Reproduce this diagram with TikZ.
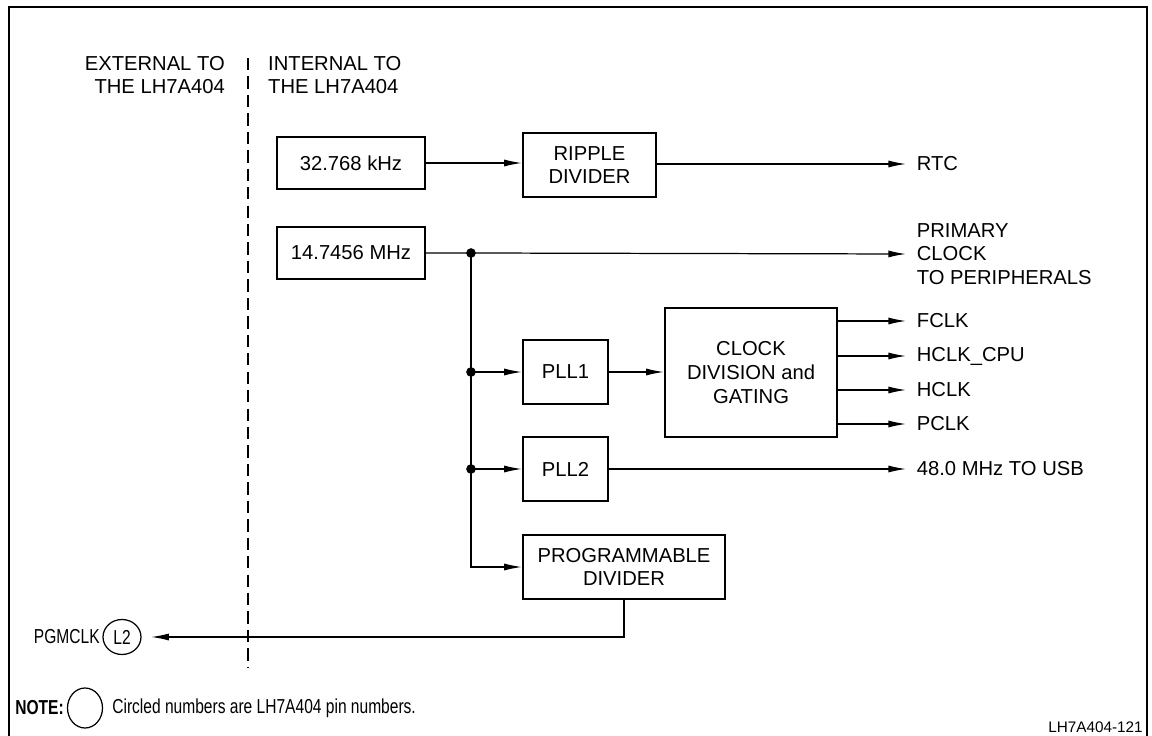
\documentclass[tikz,border=0pt]{standalone}
\usepackage{fontspec}
\setmainfont{Liberation Sans}
\usetikzlibrary{arrows.meta, shapes.geometric}
\tikzset{>={Latex[width=4pt,length=10pt]}}
\tikzset{
  blk/.style={draw=black, line width=1.4pt, align=center, inner sep=0pt},
  outlbl/.style={anchor=west, align=left, inner xsep=6pt, inner ysep=0pt},
  pin/.style={draw=black, ellipse, line width=0.7pt, inner sep=0pt},
  jdot/.style={circle, fill=black, inner sep=0pt, minimum size=5.5pt},
  wire/.style={line width=0.7pt}
}
\newcommand{\narrow}[1]{\scalebox{0.77}[1]{#1}}

\begin{document}
\begin{tikzpicture}[x=0.02cm, y=-0.02cm, font=\fontsize{11.5}{13.5}\selectfont]
  \useasboundingbox (0,0) rectangle (1152,736);
  % frame, bottom edge runs off the page
  \draw[line width=1pt] (9,745) -- (9,7) -- (1147,7) -- (1147,745);

  % boundary of the chip
  \draw[line width=1.3pt, dash pattern=on 7pt off 3.5pt] (248,58) -- (248,668);
  \node[anchor=east, align=right] (EXT) at (231,75) {EXTERNAL TO\\THE LH7A404};
  \node[anchor=west, align=left] (INT) at (262,75) {INTERNAL TO\\THE LH7A404};

  % blocks
  \node[blk, minimum width=148*0.02cm, minimum height=52*0.02cm] (OSC32) at (351,163) {32.768 kHz};
  \node[blk, minimum width=133*0.02cm, minimum height=64*0.02cm] (RIPPLE) at (589.5,165) {RIPPLE\\DIVIDER};
  \node[blk, minimum width=148*0.02cm, minimum height=52*0.02cm] (OSC14) at (351,253) {14.7456 MHz};
  \node[blk, minimum width=85*0.02cm, minimum height=64*0.02cm] (PLL1) at (565.5,372) {PLL1};
  \node[blk, minimum width=172*0.02cm, minimum height=129*0.02cm] (CLKDIV) at (751,372.5) {CLOCK\\DIVISION and\\GATING};
  \node[blk, minimum width=85*0.02cm, minimum height=64*0.02cm] (PLL2) at (565.5,469) {PLL2};
  \node[blk, minimum width=202*0.02cm, minimum height=64*0.02cm] (PROGDIV) at (624,567) {PROGRAMMABLE\\DIVIDER};

  % outputs
  \node[outlbl] (RTC) at (906,164) {RTC};
  \node[outlbl] (PRIM) at (906,254) {PRIMARY\\CLOCK\\TO PERIPHERALS};
  \node[outlbl] (FCLK) at (906,321) {FCLK};
  \node[outlbl] (HCPU) at (906,356) {HCLK\_CPU};
  \node[outlbl] (HCLK) at (906,390) {HCLK};
  \node[outlbl] (PCLK) at (906,424) {PCLK};
  \node[outlbl] (USB) at (906,469) {48.0 MHz TO USB};

  % pin
  \node[pin, minimum width=38*0.02cm, minimum height=35*0.02cm] (L2) at (122,637) {\narrow{L2}};
  \node[anchor=east, inner xsep=0pt] (PGM) at (100,637) {\narrow{PGMCLK}};

  % junctions
  \coordinate (J1) at (471,253);
  \coordinate (J2) at (471,372);
  \coordinate (J3) at (471,469);

  \draw[wire, ->] (OSC32.east) -- (OSC32.east -| RIPPLE.west);
  \draw[wire, ->] (RIPPLE.east |- RTC.west) -- (RTC.west);
  \draw[wire, ->] (OSC14.east) -- (J1) -- (PRIM.west);
  \draw[wire] (J1) -- (J3);
  \draw[wire, ->] (J3) |- (PROGDIV.west);
  \draw[wire, ->] (J2) -- (PLL1.west);
  \draw[wire, ->] (J3) -- (PLL2.west);
  \draw[wire, ->] (PLL1.east) -- (CLKDIV.west |- PLL1.east);
  \draw[wire, ->] (PLL2.east) -- (USB.west);
  \draw[wire, ->] (CLKDIV.east |- FCLK.west) -- (FCLK.west);
  \draw[wire, ->] (CLKDIV.east |- HCPU.west) -- (HCPU.west);
  \draw[wire, ->] (CLKDIV.east |- HCLK.west) -- (HCLK.west);
  \draw[wire, ->] (CLKDIV.east |- PCLK.west) -- (PCLK.west);
  \draw[wire, ->, shorten >=5.5pt] (PROGDIV.south) |- (L2.east);

  \node[jdot] at (J1) {};
  \node[jdot] at (J2) {};
  \node[jdot] at (J3) {};

  % note
  \node[anchor=west, inner xsep=0pt, font=\fontsize{11.5}{13.5}\selectfont\bfseries] (NOTE) at (15,708) {\narrow{NOTE:}};
  \node[pin, minimum width=35*0.02cm, minimum height=40*0.02cm] (NOTEPIN) at (85,708) {};
  \node[anchor=west, inner xsep=0pt] (NOTETXT) at (112,708) {\narrow{Circled numbers are LH7A404 pin numbers.}};
  \node[anchor=east, inner xsep=0pt, font=\fontsize{8.7}{10}\selectfont] (FIG) at (1143,727) {LH7A404-121};
\end{tikzpicture}
\end{document}
